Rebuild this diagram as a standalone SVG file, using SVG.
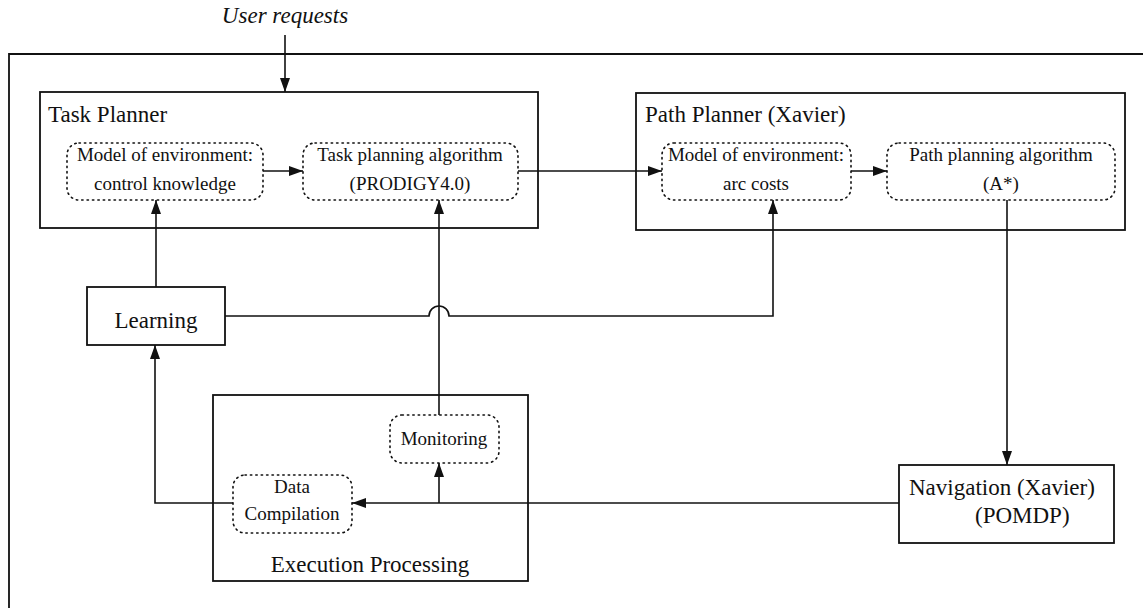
<svg xmlns="http://www.w3.org/2000/svg" width="1143" height="608" viewBox="0 0 1143 608">
<style>
.box{fill:none;stroke:#111;stroke-width:1.8}
.dot{fill:none;stroke:#111;stroke-width:1.6;stroke-dasharray:1.4 4;stroke-linecap:round}
.ln{fill:none;stroke:#111;stroke-width:1.6}
.t{font-family:"Liberation Serif","Times New Roman",serif;fill:#111}
.big{font-size:23px}
.sm{font-size:19px}
.mid{text-anchor:middle}
</style>
<defs>
<marker id="ah" viewBox="0 0 14 10" refX="14" refY="5" markerWidth="14" markerHeight="10" markerUnits="userSpaceOnUse" orient="auto">
<path d="M0,0 L14,5 L0,10 z" fill="#111"/>
</marker>
</defs>
<rect width="1143" height="608" fill="#fff"/>
<path class="box" d="M9,608 V54 H1143"/>
<text class="t big mid" x="285" y="23" font-style="italic">User requests</text>

<g id="task-planner">
<rect class="box" x="40" y="92" width="498" height="136"/>
<text class="t big" x="48" y="122">Task Planner</text>
</g>
<g id="model-control">
<rect class="dot" x="67" y="143" width="196" height="57" rx="12"/>
<text class="t sm mid" x="165" y="161">Model of environment:</text>
<text class="t sm mid" x="165" y="190">control knowledge</text>
</g>
<g id="task-algo">
<rect class="dot" x="303" y="143" width="215" height="57" rx="12"/>
<text class="t sm mid" x="410" y="161">Task planning algorithm</text>
<text class="t sm mid" x="410" y="190">(PRODIGY4.0)</text>
</g>
<g id="path-planner">
<rect class="box" x="636" y="93" width="489" height="137"/>
<text class="t big" x="645" y="122">Path Planner (Xavier)</text>
</g>
<g id="model-arc">
<rect class="dot" x="662" y="143" width="189" height="57" rx="12"/>
<text class="t sm mid" x="756" y="161">Model of environment:</text>
<text class="t sm mid" x="756" y="190">arc costs</text>
</g>
<g id="path-algo">
<rect class="dot" x="887" y="143" width="228" height="57" rx="12"/>
<text class="t sm mid" x="1001" y="161">Path planning algorithm</text>
<text class="t sm mid" x="1001" y="190">(A*)</text>
</g>
<g id="learning">
<rect class="box" x="87" y="287" width="138" height="58"/>
<text class="t big mid" x="156" y="328">Learning</text>
</g>
<g id="execution">
<rect class="box" x="213" y="395" width="315" height="186"/>
<text class="t big mid" x="370" y="572">Execution Processing</text>
</g>
<g id="monitoring">
<rect class="dot" x="390" y="415" width="109" height="48" rx="12"/>
<text class="t sm mid" x="444" y="445">Monitoring</text>
</g>
<g id="data-compilation">
<rect class="dot" x="233" y="475" width="119" height="58" rx="12"/>
<text class="t sm mid" x="292" y="493">Data</text>
<text class="t sm mid" x="292" y="520">Compilation</text>
</g>
<g id="navigation">
<rect class="box" x="899" y="465" width="215" height="78"/>
<text class="t big" x="909" y="495">Navigation (Xavier)</text>
<text class="t big" x="975" y="523">(POMDP)</text>
</g>

<g id="connectors">
<path class="ln" d="M285,35 V92" marker-end="url(#ah)"/>
<path class="ln" d="M263,171 H303" marker-end="url(#ah)"/>
<path class="ln" d="M518,171 H662" marker-end="url(#ah)"/>
<path class="ln" d="M851,171 H887" marker-end="url(#ah)"/>
<path class="ln" d="M1007,200 V465" marker-end="url(#ah)"/>
<path class="ln" d="M899,503 H352" marker-end="url(#ah)"/>
<path class="ln" d="M439,503 V463" marker-end="url(#ah)"/>
<path class="ln" d="M439,415 V200" marker-end="url(#ah)"/>
<path class="ln" d="M233,503 H155 V345" marker-end="url(#ah)"/>
<path class="ln" d="M156,287 V200" marker-end="url(#ah)"/>
<path class="ln" d="M225,316 H429 A10,10 0 0 1 449,316 H773 V200" marker-end="url(#ah)"/>
</g>
</svg>
